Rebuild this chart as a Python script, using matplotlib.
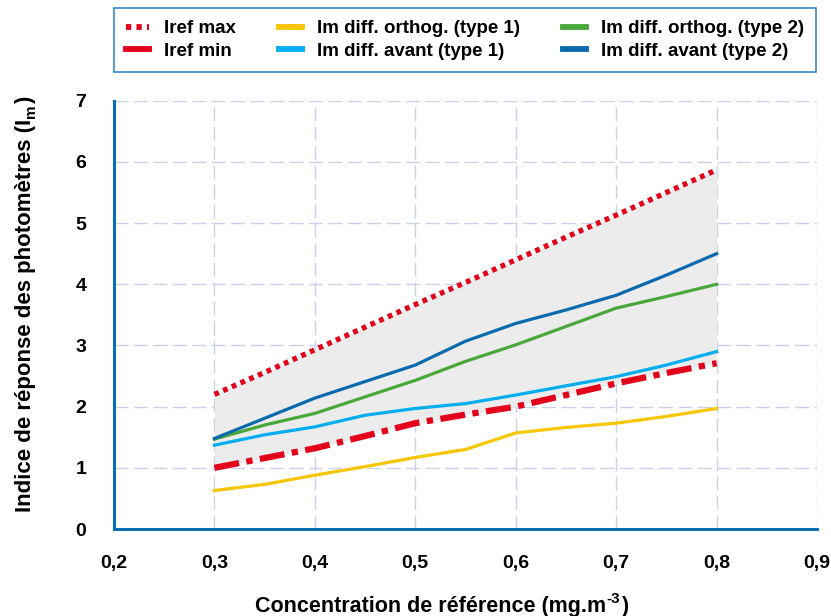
import numpy as np
import matplotlib
matplotlib.use('Agg')
import matplotlib.pyplot as plt
from matplotlib.ticker import FuncFormatter

# reference concentrations
conc = [0.3, 0.35, 0.4, 0.45, 0.5, 0.55, 0.6, 0.65, 0.7, 0.75, 0.8]

# reference limits
iref_max = [2.20, 2.56, 2.93, 3.30, 3.67, 4.03, 4.40, 4.77, 5.13, 5.50, 5.87]
iref_min = [1.00, 1.16, 1.32, 1.52, 1.73, 1.87, 2.00, 2.19, 2.38, 2.55, 2.71]

# photometer responses
ortho_t1 = [0.63, 0.73, 0.88, 1.02, 1.17, 1.30, 1.57, 1.66, 1.73, 1.84, 1.97]
avant_t1 = [1.37, 1.54, 1.67, 1.86, 1.97, 2.05, 2.19, 2.34, 2.49, 2.68, 2.90]
ortho_t2 = [1.47, 1.70, 1.89, 2.16, 2.43, 2.74, 3.01, 3.31, 3.61, 3.80, 4.00]
avant_t2 = [1.48, 1.81, 2.14, 2.41, 2.68, 3.07, 3.36, 3.58, 3.82, 4.15, 4.50]

xticks = [0.2, 0.3, 0.4, 0.5, 0.6, 0.7, 0.8, 0.9]
yticks = [0, 1, 2, 3, 4, 5, 6, 7]

plt.rcParams['font.family'] = ['Liberation Sans', 'DejaVu Sans']
plt.rcParams['font.weight'] = 'bold'

fig = plt.figure(figsize=(8.31, 6.16), dpi=100)
ax = fig.add_axes([0.1372, 0.1412, 0.846, 0.6953])

ax.fill_between(conc, iref_min, iref_max, color='#ececec', lw=0, zorder=1)

ax.plot(conc, iref_max, color='#e2001a', lw=3.8, linestyle=(0, (0.9, 0.9)),
        label='Iref max', zorder=4)
ax.plot(conc, iref_min, color='#e2001a', lw=4.5, linestyle=(0, (4, 1.2, 1, 1.2)),
        label='Iref min', zorder=4)
ax.plot(conc, ortho_t1, color='#f7c600', lw=2.3, label='Im diff. orthog. (type 1)', zorder=3)
ax.plot(conc, avant_t1, color='#00aeef', lw=2.3, label='Im diff. avant (type 1)', zorder=3)
ax.plot(conc, ortho_t2, color='#4aa83a', lw=2.3, label='Im diff. orthog. (type 2)', zorder=3)
ax.plot(conc, avant_t2, color='#0a6aad', lw=2.3, label='Im diff. avant (type 2)', zorder=3)

ax.set_xlim(0.2, 0.9)
ax.set_ylim(0, 7)
ax.set_xticks(xticks)
ax.set_yticks(yticks)
ax.xaxis.set_major_formatter(FuncFormatter(lambda v, p: ('%.1f' % v).replace('.', ',')))
ax.tick_params(length=0, labelsize=14)
ax.tick_params(axis='x', pad=19)
ax.tick_params(axis='y', pad=20)

ax.grid(True, color='#c8d2ea', lw=1, linestyle=(0, (10, 4)), zorder=0)
ax.set_axisbelow(True)
for s in ['top', 'right']:
    ax.spines[s].set_visible(False)
for s in ['left', 'bottom']:
    ax.spines[s].set_color('#0a6eb4')
    ax.spines[s].set_linewidth(2.2)
    ax.spines[s].set_zorder(5)

# x label with superscript, built from pieces
xl = fig.text(255 / 831, 4 / 616, 'Concentration de référence (mg.m', fontsize=15.5,
              fontweight='bold', ha='left', va='baseline')
sup = fig.add_artist(plt.Annotation('-3', xy=(1, 4), xycoords=(xl, 'figure pixels'),
                                    xytext=(0.5, 6.5), textcoords='offset points',
                                    fontsize=11, fontweight='bold', ha='left', va='baseline'))
fig.add_artist(plt.Annotation(')', xy=(1, 4), xycoords=(sup, 'figure pixels'),
                              xytext=(0.5, 0), textcoords='offset points',
                              fontsize=15.5, fontweight='bold', ha='left', va='baseline'))

# y label with subscript, built from pieces
yl = fig.text(31 / 831, 1 - 512 / 616, 'Indice de réponse des photomètres (I', fontsize=16,
              fontweight='bold', rotation=90, rotation_mode='anchor', ha='left', va='baseline')
sub = fig.add_artist(plt.Annotation('m', xy=(31, 1), xycoords=('figure pixels', yl),
                                    xytext=(3, 0.5), textcoords='offset points',
                                    fontsize=11, fontweight='bold', rotation=90,
                                    rotation_mode='anchor', ha='left', va='baseline'))
fig.add_artist(plt.Annotation(')', xy=(31, 1), xycoords=('figure pixels', sub),
                              xytext=(0, 0.5), textcoords='offset points',
                              fontsize=16, fontweight='bold', rotation=90,
                              rotation_mode='anchor', ha='left', va='baseline'))

leg = fig.legend(loc='lower left', bbox_to_anchor=(0.1372, 1 - 72 / 616, 0.8448, 63 / 616),
                 mode='expand', ncol=3, fontsize=13.5, frameon=True, fancybox=False,
                 handlelength=1.2, handletextpad=0.8, borderaxespad=0,
                 columnspacing=1.0, labelspacing=0.3, borderpad=0.65)
leg.get_frame().set_edgecolor('#0a6eb4')
leg.get_frame().set_linewidth(1.2)
for i, line in enumerate(leg.get_lines()):
    line.set_linewidth(4.2)
    if i == 1:
        line.set_linestyle('-')

fig.savefig('out.png', dpi=100)
